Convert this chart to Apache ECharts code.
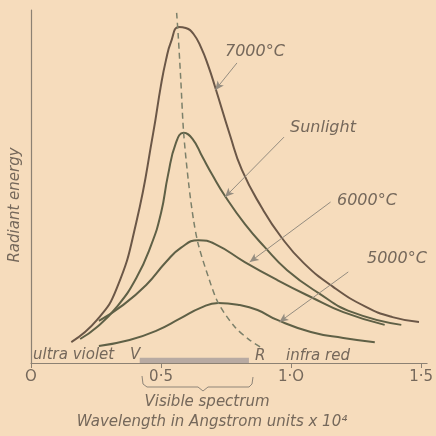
<!DOCTYPE html>
<html>
<head>
<meta charset="utf-8">
<script src="https://cdn.jsdelivr.net/npm/echarts@6/dist/echarts.min.js"></script>
<style>
  html, body { margin: 0; padding: 0; background: #f6dcbc; }
  #radChart { width: 436px; height: 436px; }
</style>
</head>
<body>
<div id="radChart"></div>
<script>
// wavelength in Angstrom x 10^4, radiant energy in arbitrary units (0-100)
const curve7000 = [
  [0.155, 5.9], [0.254, 12.2], [0.330, 21.2], [0.405, 39.9], [0.470, 65.2],
  [0.500, 78.8], [0.519, 85.8], [0.538, 90.9], [0.568, 95.2], [0.595, 94.9],
  [0.625, 93.2], [0.655, 89.2], [0.682, 84.1], [0.708, 78.2], [0.765, 64.6],
  [0.811, 54.7], [0.886, 44.2], [0.962, 35.7], [1.049, 28.3], [1.163, 21.5],
  [1.288, 15.9], [1.390, 13.0], [1.492, 11.6]
]
const curveSun = [
  [0.189, 6.8], [0.254, 10.2], [0.330, 15.9], [0.405, 24.1], [0.462, 33.4],
  [0.500, 42.5], [0.527, 53.3], [0.557, 62.3], [0.587, 65.2], [0.621, 63.5],
  [0.659, 58.4], [0.697, 53.3], [0.746, 47.3], [0.822, 39.4], [0.898, 32.9],
  [0.985, 26.3], [1.106, 19.8], [1.235, 14.4], [1.424, 10.8]
]
const curve6000 = [
  [0.261, 11.9], [0.348, 16.1], [0.443, 22.1], [0.519, 28.6], [0.576, 32.6],
  [0.644, 34.8], [0.708, 33.7], [0.822, 28.6], [0.947, 23.5], [1.076, 18.7],
  [1.201, 14.4], [1.360, 10.8]
]
const curve5000 = [
  [0.261, 4.8], [0.379, 6.5], [0.481, 9.1], [0.576, 12.7], [0.652, 15.6],
  [0.720, 17.0], [0.803, 16.4], [0.871, 15.0], [0.947, 12.2], [1.076, 8.8],
  [1.201, 7.1], [1.322, 5.9]
]
// locus of the peaks (dashed)
const peakLocus = [
  [0.560, 99.2], [0.566, 92.9], [0.576, 80.2], [0.587, 65.2], [0.606, 51.0],
  [0.625, 40.5], [0.644, 33.4], [0.682, 24.4], [0.720, 17.0], [0.784, 10.2],
  [0.841, 6.5], [0.890, 4.2]
]
const visibleBand = [0.418, 0.838]
const tickLabels = { 0: 'O', 0.5: '0·5', 1: '1·O', 1.5: '1·5' }

// arrows from the labels to the curves: [from, to]
const arrow7000 = [[0.792, 85.0], [0.708, 77.3]]
const arrowSun = [[0.973, 64.0], [0.746, 47.0]]
const arrow6000 = [[1.152, 45.6], [0.841, 28.6]]
const arrow5000 = [[1.220, 25.8], [0.955, 11.6]]

const ink = '#75685b'
const font = 'italic 15px "DejaVu Sans"'
const bigFont = 'italic 16px "DejaVu Sans"'

const arrowLine = (pair) => ({
  silent: true,
  symbol: ['none', 'arrow'],
  symbolSize: [6, 9],
  lineStyle: { color: '#958d80', width: 1, type: 'solid' },
  label: { show: false },
  animation: false,
  data: [[{ coord: pair[0] }, { coord: pair[1] }]]
})

const curve = (name, data, color, arrow) => ({
  name: name,
  type: 'line',
  data: data,
  smooth: 0.5,
  showSymbol: false,
  lineStyle: { color: color, width: 2 },
  markLine: arrowLine(arrow),
  animation: false
})

const txt = (text, x, y, f, align) => ({
  type: 'text',
  x: x,
  y: y,
  style: { text: text, font: f, fill: ink, align: align || 'left', verticalAlign: 'middle' }
})

const initChart = () => {
  const chartDom = document.getElementById('radChart')
  const myChart = echarts.init(chartDom)
  const options = {
    backgroundColor: '#f6dcbc',
    grid: { left: 31, right: 0, top: 10, bottom: 73 },
    xAxis: {
      type: 'value',
      min: 0,
      max: 1.523,
      interval: 0.5,
      axisLine: { lineStyle: { color: '#8c8173', width: 1.2 } },
      axisTick: { show: true, length: 5, lineStyle: { color: '#8c8173' } },
      axisLabel: {
        color: ink,
        fontSize: 15,
        fontFamily: 'DejaVu Sans',
        margin: 7,
        showMaxLabel: false,
        formatter: (v) => tickLabels[v] !== undefined ? tickLabels[v] : ''
      },
      splitLine: { show: false }
    },
    yAxis: {
      type: 'value',
      min: 0,
      max: 100,
      axisLine: { show: true, lineStyle: { color: '#8c8173', width: 1.2 } },
      axisTick: { show: false },
      axisLabel: { show: false },
      splitLine: { show: false }
    },
    series: [
      curve('7000°C', curve7000, '#6b5747', arrow7000),
      curve('Sunlight', curveSun, '#5f6046', arrowSun),
      curve('6000°C', curve6000, '#5f6046', arrow6000),
      curve('5000°C', curve5000, '#5f6046', arrow5000),
      {
        name: 'peak',
        type: 'line',
        data: peakLocus,
        smooth: 0.3,
        showSymbol: false,
        lineStyle: { color: '#7c806a', width: 1.5, type: [6, 4] },
        markArea: {
          silent: true,
          itemStyle: { color: '#b8aaa2' },
          data: [[{ xAxis: visibleBand[0], yAxis: 0 }, { xAxis: visibleBand[1], yAxis: 1.5 }]]
        },
        animation: false
      }
    ],
    graphic: [
      txt('7000°C', 225, 52, bigFont),
      txt('Sunlight', 290, 128, bigFont),
      txt('6000°C', 337, 201, bigFont),
      txt('5000°C', 367, 259, bigFont),
      txt('ultra violet', 33, 355, font),
      txt('V', 130, 355, font),
      txt('R', 255, 356, font),
      txt('infra red', 286, 356, font),
      {
        type: 'polyline',
        shape: { points: [[142, 376], [143, 384], [147, 387], [198, 387], [203, 391], [208, 387], [249, 387], [252, 384], [253, 377]] },
        style: { fill: 'none', stroke: '#8f8578', lineWidth: 1 }
      },
      txt('Visible spectrum', 207, 402, font, 'center'),
      txt('Wavelength in Angstrom units x 10⁴', 212, 422, font, 'center'),
      {
        type: 'text',
        x: 15,
        y: 205,
        rotation: Math.PI / 2,
        style: { text: 'Radiant energy', font: font, fill: ink, align: 'center', verticalAlign: 'middle' }
      }
    ]
  }
  myChart.setOption(options)
  return myChart
}
initChart()
</script>
</body>
</html>
